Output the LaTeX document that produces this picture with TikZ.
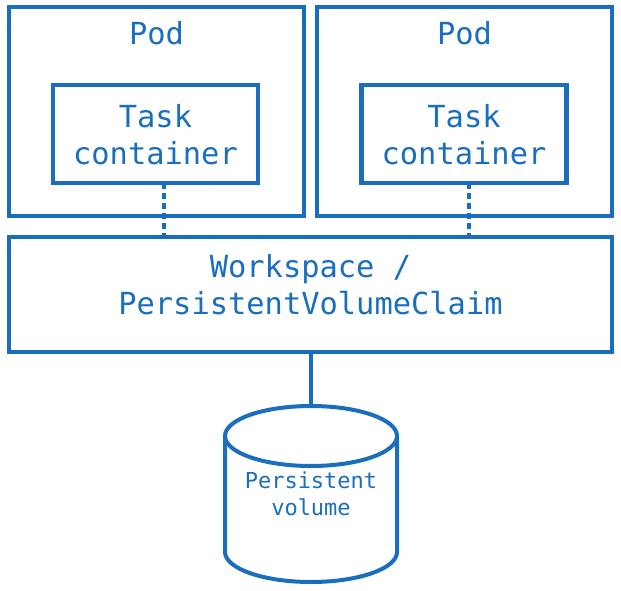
\documentclass[tikz,border=0pt]{standalone}
\usepackage{fontspec}
\setmonofont{DejaVu Sans Mono}
\definecolor{kblue}{RGB}{25,110,190}
\begin{document}
\begin{tikzpicture}[x=1pt,y=-1pt,
  box/.style={draw=kblue,line width=4.8pt,rectangle,inner sep=0pt,outer sep=0pt},
  lbl/.style={text=kblue,font=\ttfamily\fontsize{30.4}{37}\selectfont,align=center,inner sep=0pt},
  small/.style={text=kblue,font=\ttfamily\fontsize{22}{27}\selectfont,align=center,inner sep=0pt},
  dotline/.style={draw=kblue,line width=4.5pt,dash pattern=on 6pt off 4pt},
  solidline/.style={draw=kblue,line width=4.5pt},
  cyl/.style={draw=kblue,line width=4pt,line join=round}]
\useasboundingbox (0,0) rectangle (621,591);
% pods
\node[box,minimum width=295pt,minimum height=209pt] (podL) at (156.5,111.5) {};
\node[box,minimum width=295pt,minimum height=209pt] (podR) at (464.5,111.5) {};
\node[lbl] (podLt) at (156.5,33) {Pod};
\node[lbl] (podRt) at (464.5,33) {Pod};
% task containers
\node[box,minimum width=205pt,minimum height=98pt] (tcL) at (155.5,134) {};
\node[box,minimum width=205pt,minimum height=98pt] (tcR) at (464,134) {};
\node[lbl] (tcLt) at (155.5,135) {Task\\container};
\node[lbl] (tcRt) at (464,135) {Task\\container};
% workspace
\node[box,minimum width=603pt,minimum height=115pt] (ws) at (310.5,294.5) {};
\node[lbl] (wst) at (310.5,285) {Workspace /\\PersistentVolumeClaim};
% connectors
\coordinate (wsL) at (164,237);
\coordinate (wsR) at (469,237);
\draw[dotline] (tcL.south -| wsL) -- (wsL);
\draw[dotline] (tcR.south -| wsR) -- (wsR);
% cylinder
\coordinate (pvtop) at (311,406);
\draw[solidline] (ws.south -| pvtop) -- (pvtop);
\draw[cyl] (311,436) ellipse [x radius=86,y radius=30];
\draw[cyl] (225,436) -- (225,552) arc[start angle=180,end angle=0,x radius=86,y radius=30] -- (397,436);
\node[small] (pv) at (311,494) {Persistent\\volume};
\end{tikzpicture}
\end{document}
